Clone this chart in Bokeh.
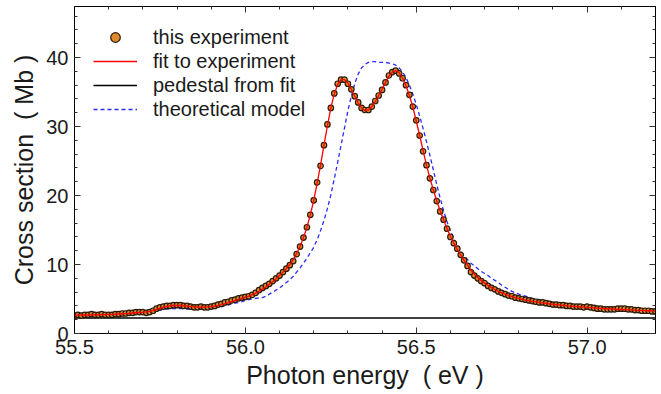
import numpy as np
from bokeh.plotting import figure
from bokeh.models import (LinearAxis, SingleIntervalTicker, NumeralTickFormatter, Range1d,
                          Legend, LegendItem)
from bokeh.embed import file_html
from bokeh.resources import INLINE

# photon energy grid (eV), 0.01 eV sampling from 55.50 to 57.20
energy = np.round(55.50 + 0.01 * np.arange(171), 2)

# measured cross section (Mb)
experiment = [
    2.6, 2.7, 2.6, 2.7, 2.7, 2.8, 2.7, 2.7, 2.8, 2.7,
    2.7, 2.7, 2.8, 2.8, 2.9, 2.9, 3.0, 3.0, 3.1, 3.1,
    3.1, 3.0, 3.1, 3.3, 3.6, 3.8, 3.9, 4.0, 4.0, 4.1,
    4.1, 4.1, 4.0, 4.0, 3.9, 3.8, 3.8, 3.9, 3.8, 3.8,
    3.9, 4.0, 4.2, 4.3, 4.5, 4.6, 4.8, 4.9, 5.1, 5.2,
    5.3, 5.4, 5.6, 5.9, 6.3, 6.6, 6.9, 7.2, 7.6, 8.0,
    8.4, 8.9, 9.4, 9.9, 10.5, 11.5, 12.6, 13.9, 15.4, 17.2,
    19.3, 21.9, 24.3, 27.3, 30.3, 32.7, 34.8, 36.2, 36.8, 36.8,
    36.2, 35.4, 34.4, 33.5, 32.7, 32.4, 32.4, 32.9, 33.7, 34.5,
    35.3, 36.4, 37.4, 37.9, 38.1, 37.7, 37.0, 36.0, 34.6, 32.9,
    30.9, 28.7, 26.4, 24.4, 22.5, 20.8, 19.2, 17.7, 16.5, 15.2,
    14.0, 13.1, 12.3, 11.4, 10.6, 9.8, 8.9, 8.4, 8.0, 7.6,
    7.3, 6.9, 6.6, 6.4, 6.1, 5.9, 5.7, 5.5, 5.4, 5.2,
    5.1, 5.0, 4.9, 4.8, 4.7, 4.6, 4.5, 4.5, 4.4, 4.3,
    4.2, 4.2, 4.1, 4.1, 4.0, 4.0, 3.9, 3.9, 3.9, 3.8,
    3.9, 3.8, 3.7, 3.6, 3.6, 3.5, 3.5, 3.5, 3.5, 3.6,
    3.6, 3.6, 3.5, 3.5, 3.4, 3.4, 3.3, 3.3, 3.3, 3.2,
    3.2,
]

# fit to experiment (Mb)
fit = [
    2.65, 2.66, 2.67, 2.68, 2.69, 2.70, 2.71, 2.72, 2.73, 2.74,
    2.76, 2.78, 2.80, 2.83, 2.86, 2.89, 2.93, 2.97, 3.01, 3.05,
    3.08, 3.12, 3.20, 3.33, 3.50, 3.68, 3.83, 3.94, 4.02, 4.06,
    4.07, 4.06, 4.02, 3.97, 3.91, 3.85, 3.82, 3.81, 3.82, 3.85,
    3.90, 3.98, 4.08, 4.20, 4.33, 4.47, 4.62, 4.78, 4.94, 5.10,
    5.26, 5.43, 5.62, 5.85, 6.12, 6.43, 6.77, 7.13, 7.52, 7.95,
    8.42, 8.90, 9.42, 10.0, 10.7, 11.6, 12.6, 13.9, 15.4, 17.2,
    19.3, 21.8, 24.4, 27.3, 30.1, 32.7, 34.7, 36.1, 36.8, 36.8,
    36.3, 35.4, 34.4, 33.4, 32.7, 32.3, 32.4, 32.9, 33.6, 34.5,
    35.4, 36.4, 37.3, 37.9, 38.1, 37.8, 37.0, 35.9, 34.5, 32.8,
    30.8, 28.7, 26.5, 24.4, 22.5, 20.8, 19.2, 17.8, 16.5, 15.2,
    14.1, 13.1, 12.2, 11.4, 10.6, 9.9, 9.2, 8.6, 8.1, 7.7,
    7.3, 6.95, 6.65, 6.38, 6.13, 5.90, 5.70, 5.52, 5.36, 5.21,
    5.08, 4.96, 4.85, 4.75, 4.66, 4.58, 4.50, 4.43, 4.36, 4.30,
    4.24, 4.18, 4.13, 4.08, 4.03, 3.98, 3.94, 3.90, 3.86, 3.82,
    3.78, 3.75, 3.71, 3.68, 3.65, 3.62, 3.59, 3.56, 3.53, 3.50,
    3.48, 3.45, 3.43, 3.41, 3.38, 3.36, 3.34, 3.32, 3.30, 3.28,
    3.26,
]

# theoretical model (Mb)
theory = [
    2.60, 2.60, 2.60, 2.65, 2.65, 2.70, 2.70, 2.70, 2.75, 2.75,
    2.80, 2.80, 2.80, 2.85, 2.90, 2.90, 2.95, 3.00, 3.00, 3.05,
    3.10, 3.10, 3.15, 3.20, 3.30, 3.40, 3.50, 3.55, 3.60, 3.60,
    3.60, 3.60, 3.60, 3.55, 3.50, 3.50, 3.50, 3.50, 3.50, 3.55,
    3.60, 3.70, 3.80, 3.90, 4.00, 4.10, 4.30, 4.40, 4.50, 4.60,
    4.80, 4.90, 5.00, 5.10, 5.15, 5.20, 5.40, 5.70, 6.00, 6.30,
    6.60, 7.00, 7.40, 7.80, 8.30, 8.90, 9.50, 10.2, 10.9, 11.7,
    12.5, 13.6, 14.9, 16.4, 18.1, 20.1, 22.4, 24.8, 27.3, 29.8,
    32.3, 34.4, 36.2, 37.6, 38.5, 39.0, 39.3, 39.4, 39.4, 39.3,
    39.3, 39.3, 39.2, 39.1, 38.9, 38.5, 37.9, 37.1, 36.0, 34.7,
    33.2, 31.5, 29.7, 27.8, 25.8, 23.7, 21.6, 19.6, 17.8, 16.2,
    14.9, 13.7, 12.8, 12.0, 11.3, 10.7, 10.2, 9.8, 9.4, 9.0,
    8.7, 8.4, 8.0, 7.7, 7.4, 7.0, 6.7, 6.4, 6.1, 5.9,
    5.7, 5.55, 5.40, 5.25, 5.10, 5.00, 4.90, 4.75, 4.65, 4.55,
    4.45, 4.35, 4.30, 4.20, 4.10, 4.05, 3.95, 3.90, 3.85, 3.80,
    3.75, 3.70, 3.65, 3.60, 3.60, 3.55, 3.50, 3.50, 3.45, 3.40,
    3.40, 3.35, 3.35, 3.30, 3.30, 3.25, 3.20, 3.20, 3.15, 3.15,
    3.10,
]

pedestal = 2.25  # constant pedestal from fit (Mb)

FONT = "Liberation Sans"
TXT = "#1a1a1a"
NB = "\u00a0"

p = figure(width=661, height=394, output_backend="svg", toolbar_location=None,
           x_range=Range1d(55.5, 57.2), y_range=Range1d(0, 47.4),
           min_border_left=74, min_border_right=6, min_border_top=6, min_border_bottom=61,
           background_fill_color="white", border_fill_color="white")
p.grid.visible = False
p.outline_line_color = "black"
p.outline_line_width = 1


def style(ax, labels=True):
    ax.axis_line_color = "black"
    ax.axis_line_width = 1
    ax.major_tick_in = 6
    ax.major_tick_out = 0
    ax.minor_tick_in = 3
    ax.minor_tick_out = 0
    ax.major_tick_line_color = "#333333"
    ax.minor_tick_line_color = "#333333"
    ax.major_label_text_font = FONT
    ax.major_label_text_color = TXT
    ax.axis_label_text_font = FONT
    ax.axis_label_text_color = TXT
    ax.axis_label_text_font_style = "normal"
    if labels:
        ax.major_label_text_font_size = "20px"
    else:
        ax.major_label_text_font_size = "0px"
        ax.major_label_standoff = 0


xa = p.xaxis[0]
xa.ticker = SingleIntervalTicker(interval=0.5, num_minor_ticks=5)
xa.formatter = NumeralTickFormatter(format="0.0")
style(xa)
xa.axis_label = "Photon energy" + NB + " (" + NB + "eV" + NB + ")"
xa.axis_label_text_font_size = "25px"
xa.major_label_standoff = 6
xa.axis_label_standoff = 4

ya = p.yaxis[0]
ya.ticker = SingleIntervalTicker(interval=10, num_minor_ticks=5)
ya.formatter = NumeralTickFormatter(format="0")
style(ya)
ya.axis_label = "Cross section" + NB + " (" + NB + "Mb" + NB + ")"
ya.axis_label_text_font_size = "25px"
ya.major_label_standoff = 6
ya.axis_label_standoff = 5

top = LinearAxis(ticker=SingleIntervalTicker(interval=0.5, num_minor_ticks=5))
style(top, labels=False)
p.add_layout(top, "above")
right = LinearAxis(ticker=SingleIntervalTicker(interval=10, num_minor_ticks=5))
style(right, labels=False)
p.add_layout(right, "right")

# curves
r_theory = p.line(energy, theory, line_color="#2b2bff", line_width=1.3,
                  line_dash="4 3")
r_ped = p.line([energy[0], energy[-1]], [pedestal, pedestal],
               line_color="black", line_width=1.3)
r_exp = p.scatter(energy, experiment, size=5.5, marker="circle",
                  fill_color="#dd8a2c", line_color="#2a1a0a", line_width=1.2)
r_fit = p.line(energy, fit, line_color="red", line_width=1.3)

legend = Legend(items=[
    LegendItem(label="this experiment", renderers=[r_exp]),
    LegendItem(label="fit to experiment", renderers=[r_fit]),
    LegendItem(label="pedestal from fit", renderers=[r_ped]),
    LegendItem(label="theoretical model", renderers=[r_theory]),
], location=(19, 212))
legend.label_text_font = FONT
legend.label_text_font_size = "20px"
legend.label_text_color = TXT
legend.label_text_line_height = 1.0
legend.glyph_width = 44
legend.glyph_height = 24
legend.label_height = 24
legend.spacing = 0
legend.padding = 0
legend.margin = 0
legend.label_standoff = 16
legend.border_line_color = None
legend.background_fill_alpha = 0
p.add_layout(legend, "center")

open("out.html", "w").write(file_html(p, INLINE))
